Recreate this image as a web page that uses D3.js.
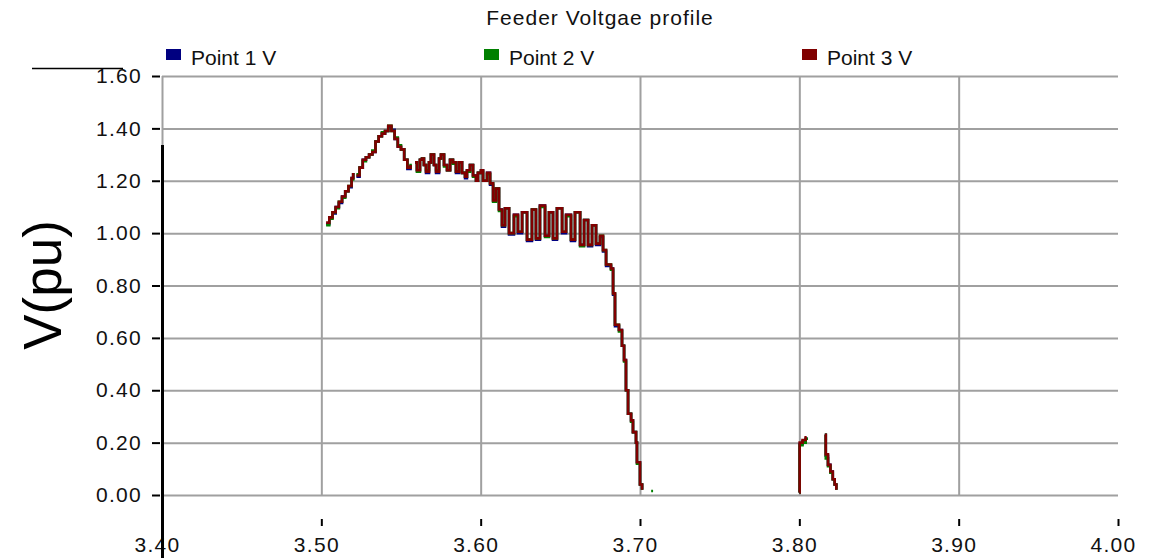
<!DOCTYPE html>
<html>
<head>
<meta charset="utf-8">
<title>Feeder Voltgae profile</title>
<style>
  body { margin: 0; background: #fff; }
  svg { display: block; font-family: "Liberation Sans", Arial, sans-serif; }
</style>
</head>
<body>
<script src="https://cdn.jsdelivr.net/npm/d3@7/dist/d3.min.js"></script>
<script>

// ---- data (null = gap in the trace)
var seriesNames = ["Point 1 V", "Point 2 V", "Point 3 V"];
var seriesColors = ["#000080", "#008000", "#800000"];

var xTicks = [3.40, 3.50, 3.60, 3.70, 3.80, 3.90, 4.00];
var yTicks = [0.00, 0.20, 0.40, 0.60, 0.80, 1.00, 1.20, 1.40, 1.60];

var voltX = [
  3.503,3.505,3.507,3.509,3.511,3.513,3.515,3.517,3.519,3.520,
  3.521,
  3.522,3.524,3.526,3.528,3.530,3.532,3.534,3.536,3.538,3.540,3.542,3.544,3.546,3.548,3.550,3.552,3.554,3.556,
  3.557,
  3.5588,3.5600,3.5619,3.5632,3.5644,3.5657,3.5676,3.5688,3.5707,3.5720,3.5739,3.5751,3.5770,3.5789,3.5808,3.5826,3.5845,3.5864,3.5883,3.5902,3.5914,3.5933,3.5952,3.5971,3.5983,3.6002,3.6015,
  3.6040,3.6059,3.6078,3.6096,3.6115,3.6134,3.6153,3.6178,
  3.6209,3.6234,3.6260,3.6291,3.6322,3.6347,3.6372,3.6404,3.6429,3.6454,3.6479,3.6511,3.6536,3.6567,3.6592,3.6624,3.6649,3.6674,3.6699,3.6724,
  3.6749,3.6768,3.6787,3.6818,3.6831,3.6843,3.6868,3.6887,3.6900,3.6912,3.6925,3.6944,3.6956,3.6975,3.6981,3.7000,3.7013,
  3.7030,
  3.7070,3.7082,
  3.7090,
  3.8000,3.8002,3.8020,3.8040,3.8046,
  3.8100,
  3.8160,3.8166,3.8180,3.8195,3.8210,3.8222,3.8232
];

var point1V = [
  1.035,1.06,1.075,1.10,1.115,1.14,1.16,1.175,1.21,1.23,
  null,
  1.215,1.25,1.28,1.29,1.30,1.31,1.35,1.37,1.38,1.39,1.405,1.395,1.36,1.33,1.32,1.28,1.245,1.26,
  null,
  1.27,1.24,1.28,1.285,1.26,1.23,1.27,1.30,1.26,1.23,1.285,1.30,1.26,1.24,1.28,1.27,1.23,1.27,1.23,1.21,1.24,1.26,1.22,1.20,1.23,1.24,1.20,
  1.23,1.185,1.125,1.17,1.09,1.025,1.095,0.995,
  1.07,1.00,1.08,0.97,1.09,0.975,1.105,0.99,1.08,0.975,1.095,1.00,1.07,0.97,1.08,0.955,1.05,0.95,1.03,0.955,
  0.985,0.93,0.875,0.865,0.765,0.645,0.63,0.57,0.515,0.40,0.31,0.285,0.24,0.20,0.125,0.04,0.02,
  null,
  null,null,
  null,
  0.01,0.195,0.205,0.215,0.22,
  null,
  0.23,0.15,0.115,0.09,0.06,0.04,0.02
];

var point2V = [
  1.03,1.055,1.08,1.095,1.12,1.135,1.16,1.18,1.205,1.23,
  null,
  1.225,1.25,1.275,1.29,1.30,1.315,1.35,1.37,1.385,1.39,1.41,1.39,1.365,1.335,1.32,1.28,1.25,1.265,
  null,
  1.27,1.235,1.28,1.285,1.26,1.24,1.27,1.30,1.26,1.24,1.285,1.30,1.255,1.24,1.28,1.265,1.235,1.27,1.23,1.215,1.235,1.26,1.215,1.20,1.23,1.235,1.20,
  1.225,1.19,1.12,1.17,1.085,1.03,1.095,1.00,
  1.065,1.005,1.08,0.975,1.09,0.98,1.10,0.985,1.08,0.98,1.095,1.005,1.065,0.975,1.08,0.95,1.05,0.955,1.03,0.96,
  0.99,0.935,0.88,0.86,0.77,0.65,0.625,0.57,0.51,0.40,0.31,0.28,0.24,0.20,0.12,0.04,0.02,
  null,
  0.015,0.015,
  null,
  0.01,0.19,0.20,0.215,0.22,
  null,
  0.23,0.14,0.11,0.085,0.06,0.04,0.02
];

var point3V = [
  1.04,1.06,1.08,1.10,1.12,1.14,1.16,1.18,1.21,1.23,
  null,
  1.22,1.25,1.28,1.29,1.30,1.31,1.35,1.37,1.38,1.39,1.41,1.39,1.36,1.33,1.32,1.28,1.25,1.26,
  null,
  1.27,1.24,1.28,1.285,1.26,1.235,1.27,1.30,1.26,1.235,1.285,1.30,1.26,1.24,1.28,1.27,1.235,1.27,1.23,1.215,1.24,1.26,1.22,1.20,1.23,1.24,1.20,
  1.23,1.19,1.125,1.17,1.09,1.03,1.095,1.00,
  1.07,1.005,1.08,0.975,1.09,0.98,1.105,0.99,1.08,0.98,1.095,1.005,1.07,0.975,1.08,0.955,1.05,0.955,1.03,0.96,
  0.99,0.935,0.88,0.865,0.77,0.65,0.63,0.57,0.515,0.40,0.31,0.285,0.24,0.20,0.125,0.04,0.02,
  null,
  null,null,
  null,
  0.01,0.20,0.21,0.22,0.22,
  null,
  0.23,0.155,0.115,0.09,0.06,0.04,0.02
];

var seriesValues = [point1V, point2V, point3V];

// ---- layout
var width = 1149, height = 558;
var plot = {left: 162, right: 1118, top: 76, bottom: 495};
var gridColor = "#a0a0a0";

var svg = d3.select("body").append("svg")
    .attr("width", width)
    .attr("height", height);

var x = d3.scaleLinear().domain([3.40, 4.00]).range([plot.left, plot.right]);
var y = d3.scaleLinear().domain([0, 1.60]).range([plot.bottom, plot.top]);

// title
svg.append("text")
    .attr("x", 600).attr("y", 25)
    .attr("text-anchor", "middle")
    .style("font-size", "21px")
    .style("letter-spacing", "1px")
    .attr("fill", "#111")
    .text("Feeder Voltgae profile");

// legend
var legendX = [166, 484, 802];
var legend = svg.selectAll(".legend")
    .data(seriesNames)
  .enter().append("g")
    .attr("class", "legend")
    .attr("transform", function(d, i) { return "translate(" + legendX[i] + ",49)"; });
legend.append("rect")
    .attr("width", 15).attr("height", 11)
    .attr("fill", function(d, i) { return seriesColors[i]; });
legend.append("text")
    .attr("x", 25).attr("y", 16)
    .style("font-size", "21px")
    .attr("fill", "#111")
    .text(function(d) { return d; });

// horizontal grid
svg.append("g")
    .attr("transform", "translate(" + plot.left + ",0)")
    .call(d3.axisRight(y).tickValues(yTicks).tickSize(plot.right - plot.left).tickFormat(""))
    .call(function(g) { g.select(".domain").remove(); })
    .selectAll(".tick line")
    .attr("stroke", gridColor).attr("stroke-width", 2);

// vertical grid (no line at 4.00)
svg.append("g")
    .attr("transform", "translate(0," + plot.top + ")")
    .call(d3.axisBottom(x).tickValues(xTicks.slice(0, 6)).tickSize(plot.bottom - plot.top).tickFormat(""))
    .call(function(g) { g.select(".domain").remove(); })
    .selectAll(".tick line")
    .attr("stroke", gridColor).attr("stroke-width", 2);

// y axis ticks + labels
var yAxis = svg.append("g")
    .attr("transform", "translate(160,0)")
    .call(d3.axisLeft(y).tickValues(yTicks).tickFormat(d3.format(".2f")).tickSize(8).tickPadding(10));
yAxis.select(".domain").remove();
yAxis.selectAll(".tick line").attr("stroke", "#000").attr("stroke-width", 2);
yAxis.selectAll(".tick text")
    .style("font-size", "21px").style("letter-spacing", "1.3px").attr("fill", "#111");

// x axis ticks + labels
var xAxis = svg.append("g")
    .attr("transform", "translate(0,519)")
    .call(d3.axisBottom(x).tickValues(xTicks).tickFormat(d3.format(".2f")).tickSize(7));
xAxis.select(".domain").remove();
xAxis.selectAll(".tick line").attr("stroke", "#000").attr("stroke-width", 2);
xAxis.selectAll(".tick text")
    .attr("y", 33).attr("dy", null).attr("dx", -5)
    .style("font-size", "21px").style("letter-spacing", "1.3px").attr("fill", "#111");
yAxis.attr("font-family", null).attr("font-size", null);
xAxis.attr("font-family", null).attr("font-size", null);

// y axis title
svg.append("text")
    .attr("transform", "translate(61,285) rotate(-90)")
    .attr("text-anchor", "middle")
    .style("font-size", "53px")
    .text("V(pu)");

// stray black strokes from the original export
svg.append("line")
    .attr("x1", 32).attr("x2", 123).attr("y1", 68.5).attr("y2", 68.5)
    .attr("stroke", "#000").attr("stroke-width", 1.5);
svg.append("line")
    .attr("x1", x(3.40) + 0.5).attr("x2", x(3.40) + 0.5).attr("y1", 145).attr("y2", height)
    .attr("stroke", "#000").attr("stroke-width", 3);

// traces, stepped
var line = d3.line()
    .defined(function(d) { return d[1] !== null; })
    .x(function(d) { return x(d[0]); })
    .y(function(d) { return y(d[1]); })
    .curve(d3.curveStepAfter);

svg.selectAll(".trace")
    .data(seriesValues)
  .enter().append("path")
    .attr("class", "trace")
    .attr("fill", "none")
    .attr("stroke", function(d, i) { return seriesColors[i]; })
    .attr("stroke-width", 2.6)
    .attr("d", function(vals) {
      return line(voltX.map(function(xv, j) { return [xv, vals[j]]; }));
    });

</script>
</body>
</html>
